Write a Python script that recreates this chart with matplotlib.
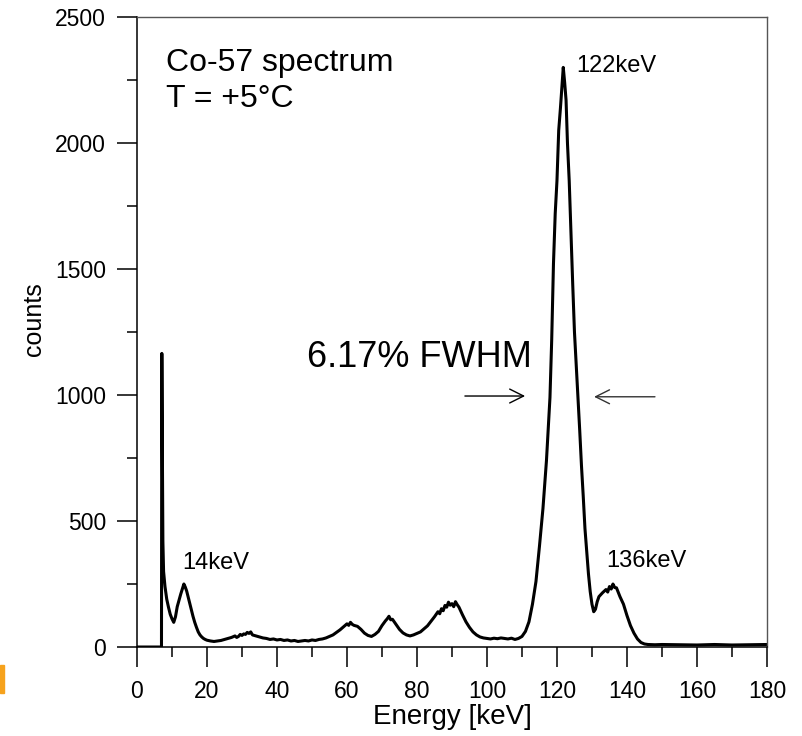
import matplotlib
matplotlib.use("Agg")
import matplotlib.pyplot as plt
from matplotlib.ticker import MultipleLocator
from matplotlib.patches import Rectangle

plt.rcParams["font.family"] = ["Liberation Sans", "DejaVu Sans"]

# spectrum (keV, counts)
energy = [0, 7.0, 7.1, 7.4, 7.6, 8.0, 8.5, 9.0, 9.5, 10.0, 10.5, 11.0, 11.5, 12.0,
          12.5, 13.0, 13.4, 13.8, 14.2, 14.6, 15.0, 15.5, 16.0, 16.5, 17.0, 17.5,
          18.0, 18.5, 19.0, 19.5, 20, 21, 22, 23, 24, 25, 26, 27, 28, 28.5, 29, 29.5,
          30, 30.5, 31, 31.5, 32, 32.5, 33, 34, 35, 36, 37, 38, 39, 40, 41, 42, 43,
          44, 45, 46, 47, 48, 49, 50, 51, 52, 53, 54, 55, 56, 57, 58, 59, 60, 60.5,
          61, 61.5, 62, 63, 64, 65, 66, 67, 68, 69, 70, 71, 71.5, 72, 72.5, 73, 74,
          75, 76, 77, 78, 79, 80, 81, 82, 83, 84, 85, 86, 86.5, 87, 87.5, 88, 88.5,
          89, 89.5, 90, 90.5, 91, 91.5, 92, 93, 94, 95, 96, 97, 98, 99, 100, 101,
          102, 103, 104, 105, 106, 107, 108, 109, 110, 111, 112, 113, 114, 115, 116,
          117, 118, 118.5, 119, 119.5, 120, 120.5, 121, 121.5, 121.8, 122.2, 122.6,
          123, 123.5, 124, 124.5, 125, 125.5, 126, 126.5, 127, 127.5, 128, 128.5,
          129, 129.5, 130, 130.5, 131, 131.5, 132, 133, 134, 134.5, 135, 135.5, 136,
          136.5, 137, 138, 139, 140, 141, 142, 143, 144, 145, 146, 148, 150, 155,
          160, 165, 170, 175, 180]
counts = [0, 0, 1165, 420, 300, 240, 190, 158, 130, 112, 98, 120, 160, 185,
          210, 232, 250, 238, 222, 200, 178, 150, 122, 98, 78, 60,
          48, 40, 34, 30, 27, 24, 22, 24, 26, 30, 34, 38, 44, 38, 42, 50,
          46, 52, 50, 58, 54, 60, 48, 44, 40, 36, 34, 30, 32, 28, 30, 26, 28,
          24, 26, 22, 24, 26, 24, 28, 26, 30, 32, 36, 42, 48, 58, 68, 80, 92, 86,
          98, 90, 86, 82, 70, 55, 46, 42, 50, 62, 85, 104, 112, 122, 108, 110, 90,
          70, 56, 48, 44, 48, 54, 60, 72, 84, 102, 120, 140, 132, 152, 144, 165, 158,
          178, 166, 172, 160, 180, 168, 158, 128, 100, 78, 60, 48, 40, 36, 34, 32,
          35, 33, 36, 34, 32, 35, 30, 34, 42, 62, 100, 170, 260, 400, 550,
          740, 990, 1220, 1520, 1720, 1850, 2050, 2140, 2240, 2300, 2240, 2170,
          2000, 1850, 1640, 1440, 1250, 1120, 990, 860, 720, 600, 470, 380,
          290, 220, 170, 140, 150, 180, 200, 215, 228, 218, 240, 230, 250,
          236, 235, 200, 170, 125, 85, 55, 32, 18, 12, 10, 9, 10, 9,
          8, 10, 8, 9, 10]

x_ticks = [0, 20, 40, 60, 80, 100, 120, 140, 160, 180]
y_ticks = [0, 500, 1000, 1500, 2000, 2500]

fig = plt.figure(figsize=(8.02, 7.36), dpi=100)
ax = fig.add_axes([0.1708, 0.1209, 0.7855, 0.856])

ax.plot(energy, counts, color="black", lw=2.2)

ax.set_xlim(0, 180)
ax.set_ylim(0, 2500)
ax.set_xticks(x_ticks)
ax.set_yticks(y_ticks)
ax.xaxis.set_minor_locator(MultipleLocator(10))
ax.yaxis.set_minor_locator(MultipleLocator(250))
ax.tick_params(which="major", length=14.4, width=1.1, labelsize=16.5, direction="out")
ax.tick_params(which="minor", length=7.2, width=1.1, direction="out")
ax.tick_params(axis="x", pad=9)
ax.tick_params(axis="y", pad=8)

for s in ["left", "bottom"]:
    ax.spines[s].set_linewidth(1.1)
for s in ["top", "right"]:
    ax.spines[s].set_linewidth(1.0)
    ax.spines[s].set_color("#555555")

ax.set_xlabel("Energy [keV]", fontsize=20, labelpad=1)
ax.set_ylabel("counts", fontsize=18)
ax.yaxis.set_label_coords(-0.145, 0.52)

# annotations
ax.text(8.3, 2286, "Co-57 spectrum", fontsize=23, va="baseline")
ax.text(8.3, 2143, "T = +5°C", fontsize=23, va="baseline")
ax.text(125.6, 2283, "122keV", fontsize=17, va="baseline")
ax.text(12.8, 310, "14keV", fontsize=17, va="baseline")
ax.text(134.2, 319, "136keV", fontsize=17, va="baseline")
ax.text(112.8, 1112, "6.17% FWHM", fontsize=26, va="baseline", ha="right")

ax.annotate("", xy=(110.9, 996), xytext=(93.7, 996),
            arrowprops=dict(arrowstyle="->", color="black", lw=1.0,
                            mutation_scale=25, shrinkA=0, shrinkB=0))
ax.annotate("", xy=(130.6, 993), xytext=(148.0, 993),
            arrowprops=dict(arrowstyle="->", color="#333333", lw=1.0,
                            mutation_scale=25, shrinkA=0, shrinkB=0))

# small orange fragment at lower left edge
fig.patches.append(Rectangle((0, 1 - 693 / 736), 4 / 802, 28 / 736,
                             transform=fig.transFigure, color="#f6a21c"))

fig.savefig("out.png", dpi=100)
